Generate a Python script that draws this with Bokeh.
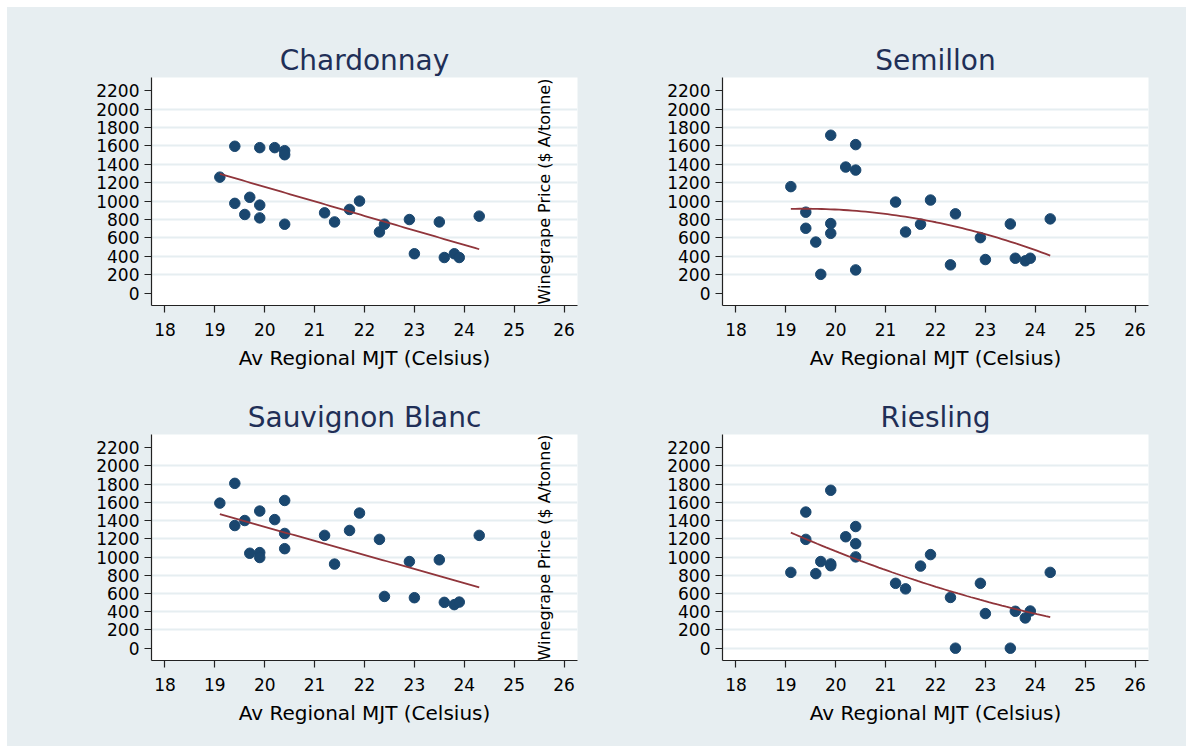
import numpy as np
from bokeh.plotting import figure
from bokeh.models import FixedTicker, Label, Range1d, Spacer
from bokeh.layouts import column, row
from bokeh.embed import file_html
from bokeh.resources import INLINE

# ---- data ----
mjt = [19.1, 19.4, 19.4, 19.6, 19.7, 19.9, 19.9, 19.9, 20.2, 20.4, 20.4, 20.4,
       21.2, 21.4, 21.7, 21.9, 22.3, 22.4, 22.9, 23.0, 23.5, 23.6, 23.8, 23.9, 24.3]
chardonnay = [1261, 1597, 976, 855, 1042, 1582, 957, 818, 1582, 1549, 1505, 749,
              873, 774, 910, 1001, 665, 749, 800, 428, 774, 387, 428, 387, 837]
semillon = [1158, 880, 705, 555, 204, 1717, 756, 650, 1371, 1615, 1338, 252,
            990, 665, 749, 1012, 307, 862, 603, 365, 752, 379, 351, 379, 807]
sauvignon = [1592, 1809, 1346, 1401, 1042, 1505, 1049, 995, 1411, 1621, 1259, 1092,
             1238, 923, 1292, 1483, 1194, 568, 951, 554, 970, 503, 478, 506, 1238]
riesling = [832, 1494, 1194, 818, 951, 1733, 925, 905, 1223, 1335, 1147, 1002,
            712, 651, 901, 1027, 557, 0, 712, 380, 0, 405, 332, 408, 832]

titles = ["Chardonnay", "Semillon", "Sauvignon Blanc", "Riesling"]
fit_degrees = [1, 2, 1, 2]
x_ticks = [18, 19, 20, 21, 22, 23, 24, 25, 26]
y_ticks = [0, 200, 400, 600, 800, 1000, 1200, 1400, 1600, 1800, 2000, 2200]
x_title = "Av Regional MJT (Celsius)"
y_title = "Winegrape Price ($ A/tonne)"

BG = "#e7eef1"
NAVY = "#1a476f"
MAROON = "#90353b"
TITLE_C = "#1f2f57"
GRID_C = "#e6eef1"
FONT = "DejaVu Sans"


def panel(title, yvals, deg, left, top, grid_zero):
    p = figure(
        x_range=Range1d(17.73, 26.27), y_range=Range1d(-135, 2345),
        frame_width=426, frame_height=228 if top else 226,
        min_border_left=144 if left else 126,
        min_border_right=19 if left else 38,
        min_border_top=70 if top else 57,
        min_border_bottom=72 if top else 86,
        output_backend="svg", toolbar_location=None,
        background_fill_color="white", border_fill_color=BG,
        outline_line_color=None, title=title,
    )
    p.title.align = "center"
    p.title.text_font = FONT
    p.title.text_font_size = "28px"
    p.title.text_font_style = "normal"
    p.title.text_color = TITLE_C
    p.title.standoff = 2

    p.xaxis.ticker = FixedTicker(ticks=x_ticks)
    p.yaxis.ticker = FixedTicker(ticks=y_ticks)
    p.xgrid.visible = False
    gt = [t for t in y_ticks if (200 <= t <= 2000) or (grid_zero and t == 0)]
    p.ygrid.ticker = FixedTicker(ticks=gt)
    p.ygrid.grid_line_color = GRID_C
    p.ygrid.grid_line_width = 2

    for ax in (p.xaxis[0], p.yaxis[0]):
        ax.axis_line_color = "#222222"
        ax.axis_line_width = 1.2
        ax.major_tick_line_color = "#222222"
        ax.major_tick_line_width = 1.2
        ax.major_tick_in = 0
        ax.major_tick_out = 7
        ax.minor_tick_line_color = None
        ax.major_label_text_font = FONT
        ax.major_label_text_font_size = "17px"
        ax.major_label_text_color = "black"
    p.yaxis.major_label_standoff = 5
    p.xaxis.major_label_standoff = 10
    p.xaxis.axis_label = x_title
    p.xaxis.axis_label_text_font = FONT
    p.xaxis.axis_label_text_font_size = "20px"
    p.xaxis.axis_label_text_font_style = "normal"
    p.xaxis.axis_label_text_color = "black"
    p.xaxis.axis_label_standoff = 7

    xs = np.array(mjt, dtype=float)
    ys = np.array(yvals, dtype=float)
    coef = np.polyfit(xs, ys, deg)
    fx = np.linspace(xs.min(), xs.max(), 60)
    fy = np.polyval(coef, fx)

    p.scatter(xs, ys, size=10.5, color=NAVY, line_color=NAVY)
    p.line(fx, fy, line_color=MAROON, line_width=1.8)

    if left:
        p.add_layout(Label(x=25.6, y=1105, text=y_title, angle=np.pi / 2,
                           text_align="center", text_baseline="middle",
                           text_font=FONT, text_font_size="16px",
                           text_color="black"))
    return p


p1 = panel(titles[0], chardonnay, fit_degrees[0], True, True, False)
p2 = panel(titles[1], semillon, fit_degrees[1], False, True, False)
p3 = panel(titles[2], sauvignon, fit_degrees[2], True, False, False)
p4 = panel(titles[3], riesling, fit_degrees[3], False, False, True)

bgstyle = {"background-color": BG}
inner = column(row(p1, p2, styles=bgstyle), row(p3, p4, styles=bgstyle), styles=bgstyle)
layout = column(Spacer(height=7), row(Spacer(width=7), inner))
open("out.html", "w").write(file_html(layout, INLINE))
